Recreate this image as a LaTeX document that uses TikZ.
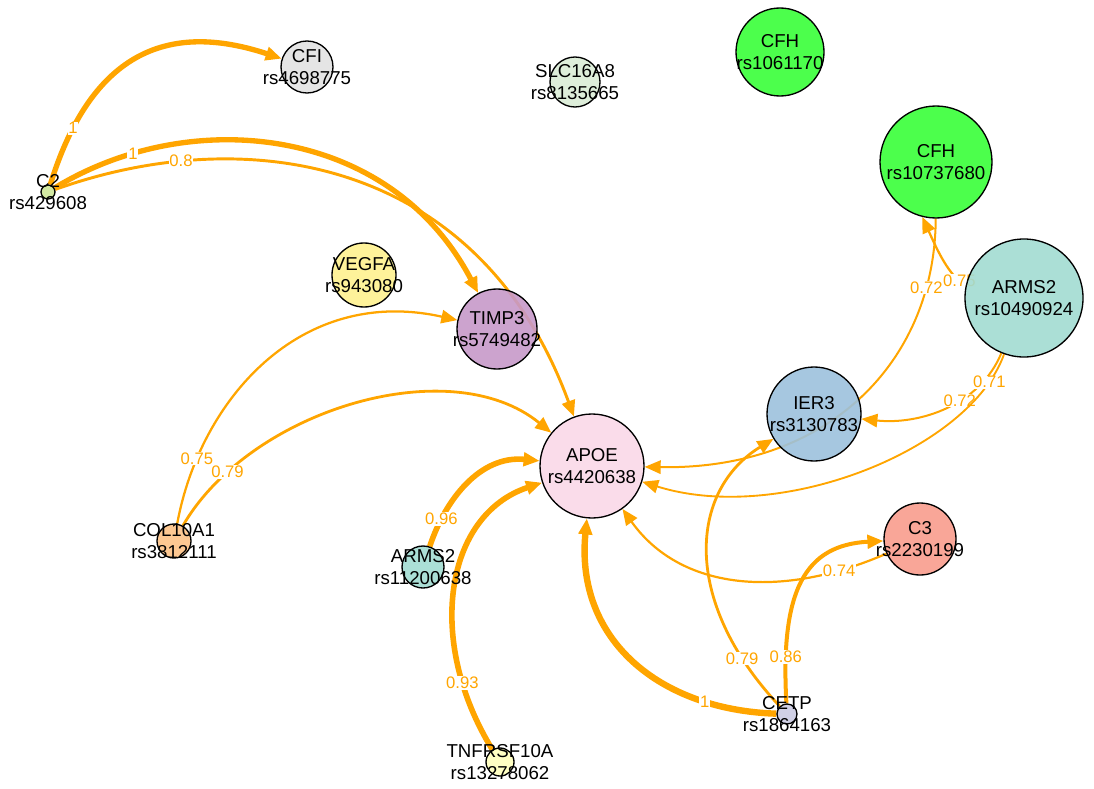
\documentclass[tikz,border=0pt]{standalone}
\usepackage{fontspec}
\setmainfont{Liberation Sans}
\usetikzlibrary{arrows.meta}

\definecolor{linkorange}{HTML}{FFA500}
\definecolor{cgrey}{HTML}{E2E2E2}
\definecolor{cpalegreen}{HTML}{DAECD6}
\definecolor{cgreen}{HTML}{39FF39}
\definecolor{colivegreen}{HTML}{CDE598}
\definecolor{cyellow}{HTML}{FEF18F}
\definecolor{cpurple}{HTML}{C799C9}
\definecolor{cteal}{HTML}{A2DBD1}
\definecolor{cblue}{HTML}{9CC1DD}
\definecolor{cpink}{HTML}{F9D8E8}
\definecolor{corange}{HTML}{FDC286}
\definecolor{csalmon}{HTML}{F89C8D}
\definecolor{clavender}{HTML}{CBCBE2}
\definecolor{ccream}{HTML}{FFFFBD}

\pgfdeclarelayer{links}
\pgfsetlayers{links,main}

\tikzset{every picture/.style={line width=0.75pt}}
\tikzset{
  gene/.style={circle, draw=black, line width=1pt, fill opacity=0.9, inner sep=0pt},
  genetext/.style={align=center, inner sep=0pt, font=\fontsize{14}{16}\selectfont},
  link/.style={draw=linkorange, -{Triangle[length=12pt,width=10pt]}},
  wlabel/.style={fill=white, text=linkorange, inner sep=0.6pt, font=\fontsize{12.5}{12.5}\selectfont},
}

\begin{document}
\begin{tikzpicture}[x=0.75pt,y=0.75pt,yscale=-1,xscale=1]
\useasboundingbox (0,0) rectangle (1094,788);

%Genes
\node[gene, fill=cgrey, minimum size=39pt] (cfi) at (307,67) {};
\node[gene, fill=cpalegreen, minimum size=37.5pt] (slc) at (575,82) {};
\node[gene, fill=cgreen, minimum size=66pt] (cfha) at (780,52) {};
\node[gene, fill=cgreen, minimum size=84pt] (cfhb) at (936,162) {};
\node[gene, fill=colivegreen, minimum size=10.5pt] (ctwo) at (48,192) {};
\node[gene, fill=cyellow, minimum size=48pt] (vegfa) at (364,275) {};
\node[gene, fill=cpurple, minimum size=60pt] (timp) at (497,329) {};
\node[gene, fill=cteal, minimum size=88.5pt] (armsa) at (1024,298) {};
\node[gene, fill=cblue, minimum size=70.5pt] (ier) at (814,414) {};
\node[gene, fill=cpink, minimum size=78pt] (apoe) at (592,466) {};
\node[gene, fill=corange, minimum size=25.5pt] (col) at (174,541) {};
\node[gene, fill=cteal, minimum size=31.5pt] (armsb) at (423,567) {};
\node[gene, fill=csalmon, minimum size=54pt] (cthree) at (920,539) {};
\node[gene, fill=clavender, minimum size=15pt] (cetp) at (787,714) {};
\node[gene, fill=ccream, minimum size=21pt] (tnf) at (500,762) {};

% Text Nodes
\node[genetext] (cfi-t) at (cfi) {CFI\\rs4698775};
\node[genetext] (slc-t) at (slc) {SLC16A8\\rs8135665};
\node[genetext] (cfha-t) at (cfha) {CFH\\rs1061170};
\node[genetext] (cfhb-t) at (cfhb) {CFH\\rs10737680};
\node[genetext] (ctwo-t) at (ctwo) {C2\\rs429608};
\node[genetext] (vegfa-t) at (vegfa) {VEGFA\\rs943080};
\node[genetext] (timp-t) at (timp) {TIMP3\\rs5749482};
\node[genetext] (armsa-t) at (armsa) {ARMS2\\rs10490924};
\node[genetext] (ier-t) at (ier) {IER3\\rs3130783};
\node[genetext] (apoe-t) at (apoe) {APOE\\rs4420638};
\node[genetext] (col-t) at (col) {COL10A1\\rs3812111};
\node[genetext] (armsb-t) at (armsb) {ARMS2\\rs11200638};
\node[genetext] (cthree-t) at (cthree) {C3\\rs2230199};
\node[genetext] (cetp-t) at (cetp) {CETP\\rs1864163};
\node[genetext] (tnf-t) at (tnf) {TNFRSF10A\\rs13278062};

\begin{pgfonlayer}{links}
%Links
\draw[link, line width=4pt] (ctwo) .. controls (95,40) and (180,25) .. node[wlabel, pos=0.15] (w1) {1} (cfi);
\draw[link, line width=4pt] (ctwo) .. controls (190,105) and (390,125) .. node[wlabel, pos=0.18] (w2) {1} (timp);
\draw[link, line width=2.2pt] (ctwo) .. controls (250,120) and (480,160) .. node[wlabel, pos=0.21] (w3) {0.8} (apoe);
\draw[link, line width=1.7pt] (col) .. controls (200,400) and (300,285) .. node[wlabel, pos=0.18] (w4) {0.75} (timp);
\draw[link, line width=2.1pt] (col) .. controls (250,410) and (450,350) .. node[wlabel, pos=0.17] (w5) {0.79} (apoe);
\draw[link, line width=4.2pt] (armsb) .. controls (445,500) and (480,455) .. node[wlabel, pos=0.2] (w6) {0.96} (apoe);
\draw[link, line width=4.2pt] (tnf) .. controls (425,640) and (445,515) .. node[wlabel, pos=0.2] (w7) {0.93} (apoe);
\draw[link, line width=4.8pt] (cetp) .. controls (660,710) and (575,640) .. node[wlabel, pos=0.22] (w8) {1} (apoe);
\draw[link, line width=2.1pt] (cetp) .. controls (680,600) and (690,490) .. node[wlabel, pos=0.15] (w9) {0.79} (ier);
\draw[link, line width=3pt] (cetp) .. controls (780,590) and (805,545) .. node[wlabel, pos=0.15] (w10) {0.86} (cthree);
\draw[link, line width=1.65pt] (cthree) .. controls (780,600) and (680,590) .. node[wlabel, pos=0.15] (w11) {0.74} (apoe);
\draw[link, line width=1.5pt] (cfhb) .. controls (935,360) and (830,470) .. node[wlabel, pos=0.17] (w12) {0.72} (apoe);
\draw[link, line width=1.7pt] (armsa) .. controls (950,280) and (935,245) .. node[wlabel, pos=0.14] (w13) {0.75} (cfhb.256);
\draw[link, line width=1.5pt] (armsa) .. controls (980,405) and (920,425) .. node[wlabel, pos=0.4] (w14) {0.72} (ier);
\draw[link, line width=1.4pt] (armsa) .. controls (970,450) and (780,525) .. node[wlabel, pos=0.1] (w15) {0.71} (apoe);
\end{pgfonlayer}

\end{tikzpicture}
\end{document}
